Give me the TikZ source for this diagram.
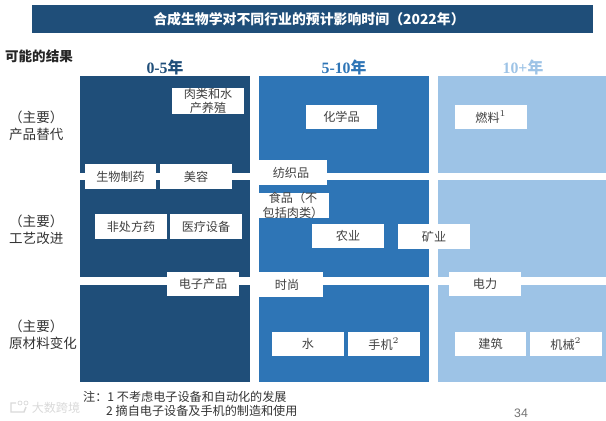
\documentclass[tikz,border=0pt]{standalone}
\usepackage{fontspec}
\usepackage{xcolor}
\usetikzlibrary{positioning}
\setmainfont{Liberation Serif}
\setsansfont{Liberation Sans}
\newfontfamily\cjk{Noto Sans CJK SC}
\definecolor{darkblue}{HTML}{1F4E79}
\definecolor{midblue}{HTML}{2E75B6}
\definecolor{lightblue}{HTML}{9DC3E6}
\tikzset{
	tag/.style={fill=white,minimum width=40.5pt,minimum height=14.2pt,inner sep=0pt,align=center,font=\cjk\fontsize{6.9}{8.2}\selectfont,text=black!75},
	rowlabel/.style={anchor=west,align=left,font=\cjk\fontsize{7.7}{9.7}\selectfont,text=black!80},
	headlabel/.style={font=\bfseries\fontsize{9}{10}\selectfont},
	notelabel/.style={anchor=west,font=\cjk\fontsize{6.9}{8}\selectfont,text=black!80}
}
\begin{document}
\begin{tikzpicture}[x=0.02cm,y=-0.02cm]
	\useasboundingbox (0,0) rectangle (606,420);
	% title bar
	\fill[darkblue] (32,5) rectangle (593,33);
	\node[text=white,font=\cjk\bfseries\fontsize{7.9}{9}\selectfont] (title) at (309,19.5) {合成生物学对不同行业的预计影响时间（2022年）};
	\node[font=\cjk\bfseries\fontsize{7.7}{9}\selectfont,text=black!85] (result) at (39,56) {可能的结果};
	% columns
	\foreach \xa/\xb/\col in {80/250/darkblue,259/429/midblue,438/606/lightblue}{
		\fill[\col] (\xa,76) rectangle (\xb,173);
		\fill[\col] (\xa,180) rectangle (\xb,277);
		\fill[\col] (\xa,285) rectangle (\xb,382);
	}
	\node[headlabel,text=darkblue] (early) at (165,67) {0-5{\cjk 年}};
	\node[headlabel,text=midblue] (mid) at (344,67) {5-10{\cjk 年}};
	\node[headlabel,text=lightblue] (late) at (523,67) {10+{\cjk 年}};
	% row labels
	\node[rowlabel] (replace) at (3,125.5) {（主要）\\产品替代};
	\node[rowlabel] (process) at (3,229.5) {（主要）\\工艺改进};
	\node[rowlabel] (material) at (3,334.5) {（主要）\\原材料变化};
	% first row
	\node[tag] (meat) at (208,101) {肉类和水\\产养殖};
	\node[tag] (chem) at (341.5,117) {化学品};
	\node[tag] (fuel) at (491,117) {燃料$^{1}$};
	\node[tag] (pharma) at (120.5,176.5) {生物制药};
	\node[tag] (beauty) at (196,176.5) {美容};
	\node[tag] (textile) at (291,172.5) {纺织品};
	% second row
	\node[tag] (food) at (293,205.5) {食品（不\\包括肉类）};
	\node[tag] (otc) at (131,226.5) {非处方药};
	\node[tag] (device) at (206,226.5) {医疗设备};
	\node[tag] (farm) at (348,236) {农业};
	\node[tag] (mine) at (434,236.5) {矿业};
	% third row
	\node[tag] (elec) at (203,284) {电子产品};
	\node[tag] (fashion) at (287,284.5) {时尚};
	\node[tag] (power) at (485,284) {电力};
	\node[tag] (water) at (308,344) {水};
	\node[tag] (phone) at (384,344) {手机$^{2}$};
	\node[tag] (build) at (490.5,344) {建筑};
	\node[tag] (machine) at (566,344) {机械$^{2}$};
	% watermark
	\draw[black!15,thick] (16,403) -- (11,403) -- (11,412) -- (24,412) -- (26,407);
	\draw[black!15] (20,403) circle (2);
	\draw[black!15] (26,403) circle (2);
	\node[text=black!15,font=\cjk\fontsize{6.9}{8}\selectfont] (mark) at (56,408) {大数跨境};
	% notes
	\node[notelabel] (note1) at (77,396.5) {注：1 不考虑电子设备和自动化的发展};
	\node[notelabel] (note2) at (100,411) {2 摘自电子设备及手机的制造和使用};
	\node[font=\sffamily\fontsize{7}{8}\selectfont,text=black!55] (page) at (521,413.5) {34};
\end{tikzpicture}
\end{document}
